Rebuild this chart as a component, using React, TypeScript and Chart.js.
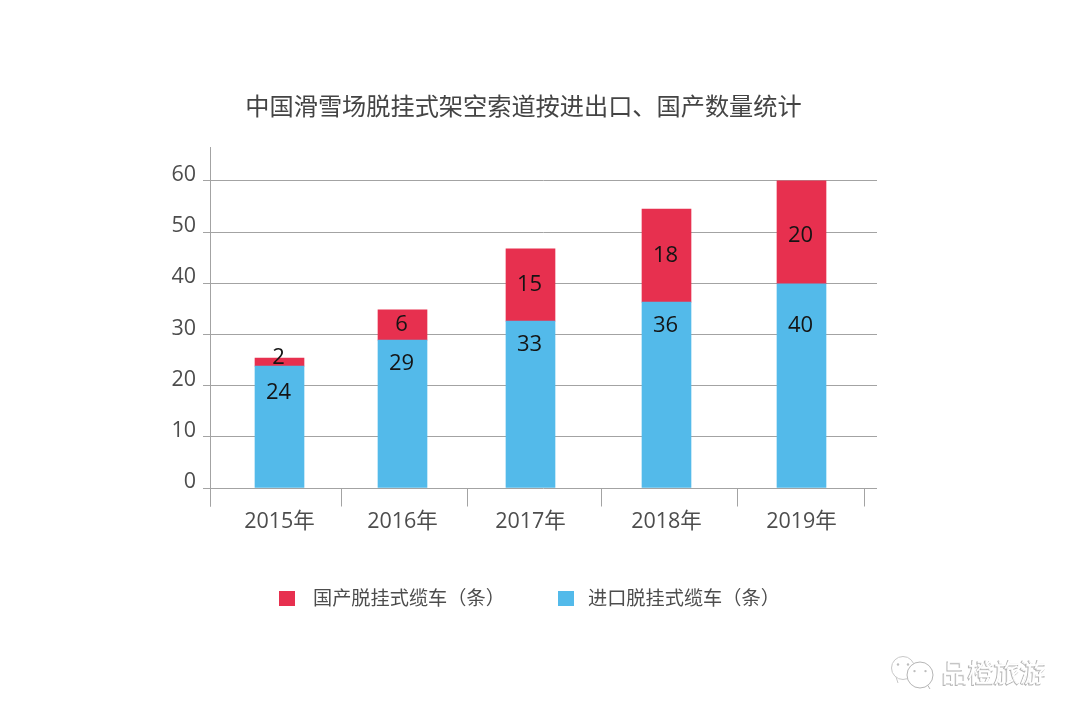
import React, { useEffect, useRef } from "react";
import { Chart, CategoryScale, registerables } from "chart.js";

Chart.register(...registerables);

const chartTitle = "中国滑雪场脱挂式架空索道按进出口、国产数量统计";
const categories = ["2015年", "2016年", "2017年", "2018年", "2019年"];
const importName = "进口脱挂式缆车（条）";
const domesticName = "国产脱挂式缆车（条）";
// Printed figures on the bars
const importLabels = [24, 29, 33, 36, 40];
const domesticLabels = [2, 6, 15, 18, 20];
// Drawn segment heights, as read against the axis
const importValues = [23.8, 28.9, 32.6, 36.3, 39.9];
const domesticValues = [1.6, 5.9, 14.1, 18.2, 20.1];
const yTicks = [0, 10, 20, 30, 40, 50, 60];
const watermark = "品橙旅游";

const CJK = '"Noto Sans CJK SC"';
const LATIN = '"Open Sans", "Noto Sans CJK SC"';
const GRID = "#a3a3a3";
const TEXT = "#4d4d4d";
const BLUE = "#53BAEA";
const RED = "#E7304F";

// The source spaces its categories unevenly; these are layout fractions of the x axis.
const centreFractions = [0.1042, 0.2886, 0.4805, 0.6844, 0.8868];
const separatorFractions = [0, 0.1964, 0.3853, 0.5862, 0.7901, 0.9805];
// Blue labels sit near the top of their bars, in pixels below the top.
const importLabelDrop = [27, 24, 24, 24, 42];

class UnevenCategoryScale extends CategoryScale {
  static id = "unevenCategory";
  static defaults = CategoryScale.defaults;
  getPixelForValue(value: any) {
    const v = typeof value === "number" ? value : (this as any).parse(value);
    return (this as any).getPixelForDecimal(centreFractions[v]);
  }
}
Chart.register(UnevenCategoryScale as any);

const drawBubble = (ctx: any, x: number, y: number, r: number, tailX: number, tailY: number, eye: number) => {
  ctx.beginPath();
  ctx.arc(x, y, r, 0, Math.PI * 2);
  ctx.fill();
  ctx.stroke();
  ctx.beginPath();
  ctx.moveTo(x + (tailX > x ? r * 0.6 : -r * 0.6), y + r * 0.8);
  ctx.lineTo(tailX, tailY);
  ctx.stroke();
  ctx.fillStyle = "#bdbdbd";
  [-eye, eye].forEach((dx) => {
    ctx.beginPath();
    ctx.arc(x + dx, y - r * 0.3, 1.2, 0, Math.PI * 2);
    ctx.fill();
  });
  ctx.fillStyle = "#ffffff";
};

const decorations = {
  id: "decorations",
  beforeDatasetsDraw(chart: any) {
    const { ctx, chartArea, scales } = chart;
    ctx.save();
    ctx.strokeStyle = GRID;
    ctx.lineWidth = 1;
    const bottom = Math.round(chartArea.bottom) + 0.5;
    ctx.beginPath();
    ctx.moveTo(chartArea.left + 0.5, chartArea.top);
    ctx.lineTo(chartArea.left + 0.5, bottom + 18);
    separatorFractions.forEach((f) => {
      const x = Math.round(scales.x.getPixelForDecimal(f)) + 0.5;
      ctx.moveTo(x, bottom);
      ctx.lineTo(x, bottom + 18);
    });
    ctx.stroke();
    ctx.restore();
  },
  afterDatasetsDraw(chart: any) {
    const { ctx } = chart;
    ctx.save();
    ctx.textAlign = "center";
    ctx.textBaseline = "middle";
    ctx.fillStyle = "#141414";
    ctx.font = `22px ${LATIN}`;
    const blue = chart.getDatasetMeta(0).data;
    const red = chart.getDatasetMeta(1).data;
    importLabels.forEach((v, i) => {
      ctx.fillText(String(v), blue[i].x - 1, blue[i].y + importLabelDrop[i]);
    });
    domesticLabels.forEach((v, i) => {
      const mid = (red[i].y + red[i].base) / 2;
      ctx.fillText(String(v), red[i].x - 1, mid + (i === 0 ? -4 : i === 4 ? 3 : 0));
    });

    // Legend, red entry first
    ctx.textAlign = "left";
    ctx.font = `19.2px ${CJK}`;
    ctx.fillStyle = RED;
    ctx.fillRect(279, 591, 16, 15);
    ctx.fillStyle = BLUE;
    ctx.fillRect(558, 591, 16, 15);
    ctx.fillStyle = TEXT;
    ctx.fillText(domesticName, 313, 598);
    ctx.fillText(importName, 588, 598);

    // Embossed watermark
    ctx.font = `26px ${CJK}`;
    ctx.lineWidth = 1;
    ctx.strokeStyle = "#b5b5b5";
    ctx.fillStyle = "#ffffff";
    ctx.strokeText(watermark, 941, 673);
    ctx.fillText(watermark, 942, 672);
    ctx.strokeStyle = "#c8c8c8";
    drawBubble(ctx, 903, 668, 11.5, 898, 683, 5);
    ctx.strokeStyle = "#b5b5b5";
    drawBubble(ctx, 920, 675, 13, 930, 689, 5.5);
    ctx.restore();
  },
};

export default function App() {
  const ref = useRef<HTMLCanvasElement>(null);
  useEffect(() => {
    const chart = new Chart(ref.current as HTMLCanvasElement, {
      type: "bar",
      plugins: [decorations],
      data: {
        labels: categories,
        datasets: [
          { label: importName, data: importValues, backgroundColor: BLUE, barThickness: 49, borderWidth: 0 },
          { label: domesticName, data: domesticValues, backgroundColor: RED, barThickness: 49, borderWidth: 0 },
        ],
      },
      options: {
        responsive: false,
        animation: false,
        layout: { padding: { top: 0, left: 170, right: 203, bottom: 0 } },
        plugins: {
          legend: { display: false },
          tooltip: { enabled: false },
          title: {
            display: true,
            text: chartTitle,
            color: "#444444",
            font: { family: CJK, size: 24.2, weight: "normal" },
            padding: { top: 91, bottom: 27 },
          },
        },
        scales: {
          x: {
            type: "unevenCategory",
            stacked: true,
            grid: { display: false },
            border: { display: false },
            afterFit: (s: any) => { s.height = 232; },
            ticks: {
              autoSkip: false,
              maxRotation: 0,
              padding: 13,
              color: TEXT,
              font: { family: LATIN, size: 21.5 },
            },
          },
          y: {
            stacked: true,
            min: 0,
            max: 66.6,
            afterFit: (s: any) => { s.width = 40; },
            afterBuildTicks: (s: any) => {
              s.ticks = yTicks.map((value) => ({ value }));
            },
            grid: { color: GRID, tickColor: GRID, tickLength: 7, lineWidth: 1 },
            border: { display: false },
            ticks: {
              padding: 7,
              labelOffset: -6,
              color: TEXT,
              font: { family: LATIN, size: 21.5 },
            },
          },
        },
      } as any,
    });
    return () => chart.destroy();
  }, []);
  return (
    <div style={{ position: "absolute", left: 0, top: 0, width: 1080, height: 720, background: "#fff" }}>
      <canvas ref={ref} width={1080} height={720} style={{ display: "block" }} />
    </div>
  );
}
